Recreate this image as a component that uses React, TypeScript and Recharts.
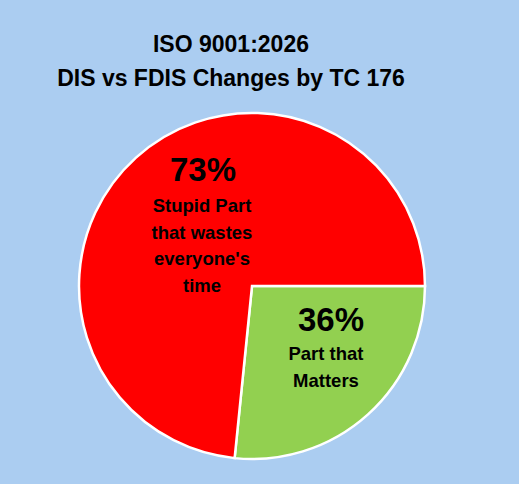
import React from "react";
import { PieChart, Pie, Cell } from "recharts";

const categories = ["Part that Matters", "Stupid Part that wastes everyone's time"];
const values = [26.6, 73.4];
const percentLabels = ["36%", "73%"];
const labelLines = [["Part that", "Matters"], ["Stupid Part", "that wastes", "everyone's", "time"]];
const colors = ["#92D050", "#FF0000"];
const titleLines = ["ISO 9001:2026", "DIS vs FDIS Changes by TC 176"];

const data = categories.map((name, i) => ({ name, value: values[i] }));

const FONT = "'Liberation Sans', Arial, sans-serif";
const BG = "#ABCDF1";

// label layout relative to pie centre
const labelLayout = [
  { pctDx: 79, pctDy: 45, textDx: 74, firstDy: 74 },
  { pctDx: -49, pctDy: -105, textDx: -50, firstDy: -74 },
];
const LINE_H = 26.5;

const renderLabel = (props: any) => {
  const { cx, cy, index } = props;
  const L = labelLayout[index];
  return (
    <g key={`lbl-${index}`}>
      <text
        x={cx + L.pctDx}
        y={cy + L.pctDy}
        textAnchor="middle"
        fontFamily={FONT}
        fontWeight="bold"
        fontSize={33}
        fill="#000"
      >
        {percentLabels[index]}
      </text>
      {labelLines[index].map((ln, j) => (
        <text
          key={j}
          x={cx + L.textDx}
          y={cy + L.firstDy + j * LINE_H}
          textAnchor="middle"
          fontFamily={FONT}
          fontWeight="bold"
          fontSize={18.5}
          fill="#000"
        >
          {ln}
        </text>
      ))}
    </g>
  );
};

export default function App() {
  return (
    <div
      style={{
        position: "absolute",
        left: 0,
        top: 0,
        width: 519,
        height: 484,
        background: BG,
        overflow: "hidden",
      }}
    >
      <PieChart width={519} height={484} margin={{ top: 0, right: 0, bottom: 0, left: 0 }}>
        <Pie
          data={data}
          dataKey="value"
          nameKey="name"
          cx={252}
          cy={286}
          outerRadius={173}
          startAngle={0}
          endAngle={-360}
          stroke="#FFFFFF"
          strokeWidth={2.5}
          label={renderLabel}
          labelLine={false}
          isAnimationActive={false}
        >
          {data.map((d, i) => (
            <Cell key={d.name} fill={colors[i]} />
          ))}
        </Pie>
      </PieChart>
      <svg
        width={519}
        height={484}
        style={{ position: "absolute", left: 0, top: 0, pointerEvents: "none" }}
      >
        {titleLines.map((t, i) => (
          <text
            key={t}
            x={231}
            y={52 + i * 34}
            textAnchor="middle"
            fontFamily={FONT}
            fontWeight="bold"
            fontSize={23}
            fill="#000"
          >
            {t}
          </text>
        ))}
      </svg>
    </div>
  );
}
